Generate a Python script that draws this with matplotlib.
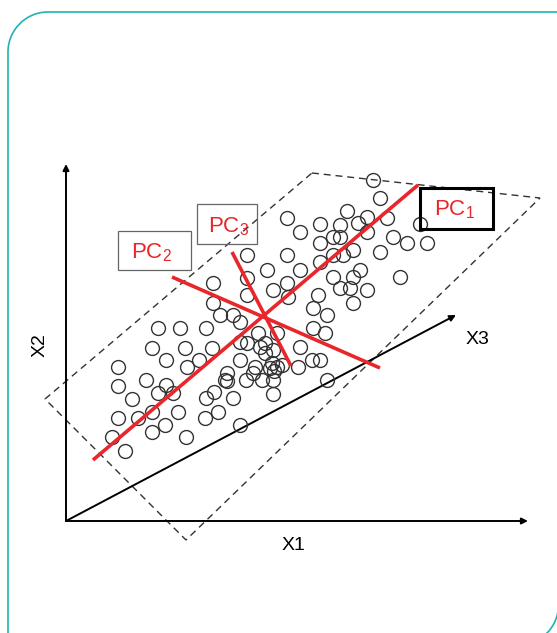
import matplotlib.pyplot as plt
from matplotlib.patches import Rectangle, Polygon, PathPatch
from matplotlib.path import Path

# scatter points (image pixel coordinates, y downwards)
punti_x = [373, 380, 347, 287, 300, 320, 340, 358, 367, 387, 420, 333, 340, 367, 393,
           407, 427, 320, 287, 247, 333, 343, 353, 380, 267, 300, 320, 213, 247, 273,
           287, 333, 353, 360, 340, 350, 367, 400, 318, 353, 288, 247, 213, 220, 233,
           240, 158, 180, 206, 152, 185, 212, 166, 199, 118, 187, 240, 247, 258, 260,
           277, 265, 272, 277, 255, 240, 300, 298, 312, 320, 313, 327, 313, 325, 327,
           225, 246, 253, 274, 214, 233, 118, 146, 166, 158, 173, 132, 206, 227, 227,
           262, 273, 118, 138, 152, 178, 205, 218, 165, 152, 186, 240, 112, 125, 273,
           270, 282, 265, 273]
punti_y = [180, 198, 211, 218, 232, 224, 225, 223, 217, 218, 224, 237, 237, 232, 237,
           243, 243, 243, 255, 255, 255, 255, 250, 252, 270, 270, 262, 283, 278, 290,
           283, 277, 277, 270, 288, 288, 290, 277, 295, 303, 297, 295, 303, 315, 315,
           322, 328, 328, 328, 348, 348, 348, 360, 360, 367, 367, 342, 343, 333, 347,
           333, 353, 363, 367, 367, 360, 347, 367, 360, 360, 308, 315, 328, 333, 380,
           380, 380, 373, 371, 392, 398, 386, 380, 385, 393, 393, 399, 398, 373, 381,
           380, 380, 418, 418, 412, 412, 418, 412, 425, 432, 437, 425, 437, 451, 394,
           368, 365, 343, 350]

# componenti principali (estremi dei segmenti)
pc1 = [(93, 460), (418, 185)]
pc2 = [(172, 277), (380, 368)]
pc3 = [(232, 252), (291, 366)]

# contorno tratteggiato
piano = [(312, 173), (540, 198), (186, 540), (45, 399)]

etichette = ['PC$_\\mathregular{1}$', 'PC$_\\mathregular{2}$', 'PC$_\\mathregular{3}$']
assi = ['X1', 'X2', 'X3']

rosso = '#e8262b'
grigio = '#333333'

fig = plt.figure(figsize=(5.57, 6.33), dpi=100)
ax = fig.add_axes([0, 0, 1, 1])
ax.set_xlim(0, 557)
ax.set_ylim(633, 0)
ax.axis('off')

# cornice: angoli arrotondati solo in alto a sinistra e in basso a destra
sx, dx, su, giu, r, k = 8, 558.5, 12, 645, 40, 0.5523
vertici = [(sx, giu), (sx, su + r),
           (sx, su + r - k * r), (sx + r - k * r, su), (sx + r, su),
           (dx, su), (dx, giu - r),
           (dx, giu - r + k * r), (dx - r + k * r, giu), (dx - r, giu),
           (sx, giu)]
codici = [Path.MOVETO, Path.LINETO, Path.CURVE4, Path.CURVE4, Path.CURVE4,
          Path.LINETO, Path.LINETO, Path.CURVE4, Path.CURVE4, Path.CURVE4, Path.LINETO]
ax.add_patch(PathPatch(Path(vertici, codici), fc='white', ec='#1fb3b3', lw=1.2, zorder=0))

ax.add_patch(Polygon(piano, closed=True, fill=False, ec=grigio, lw=1.0,
                     linestyle=(0, (5, 3.5)), zorder=2))

# assi
origine = (66, 521)
for punta in [(66, 164), (528, 521), (456, 315)]:
    ax.annotate('', xy=punta, xytext=origine,
                arrowprops=dict(arrowstyle='-|>', color='black', lw=1.4,
                                mutation_scale=9, shrinkA=0, shrinkB=0), zorder=3)

font_assi = ['Liberation Sans Narrow', 'Liberation Sans', 'DejaVu Sans']
ax.text(293, 545, assi[0], ha='center', va='center', fontsize=14, family=font_assi)
ax.text(40, 345, assi[1], ha='center', va='center', fontsize=14, rotation=90, family=font_assi)
ax.text(478, 340, assi[2], ha='center', va='center', fontsize=14, family=font_assi)

ax.plot(punti_x, punti_y, 'o', ms=10, mfc='none', mec=grigio, mew=1.0, zorder=4)

for seg in [pc1, pc2, pc3]:
    ax.plot([seg[0][0], seg[1][0]], [seg[0][1], seg[1][1]], color=rosso, lw=2.6,
            solid_capstyle='butt', zorder=5)

# riquadri etichette
ax.add_patch(Rectangle((420, 188), 73, 41, fill=False, ec='black', lw=2.2, zorder=6))
ax.add_patch(Rectangle((118, 231), 73, 39, fill=False, ec='#666666', lw=0.9, zorder=6))
ax.add_patch(Rectangle((197, 204), 60, 40, fill=False, ec='#666666', lw=0.9, zorder=6))

font_pc = ['Liberation Sans', 'DejaVu Sans']
ax.text(454, 210, etichette[0], ha='center', va='center', color=rosso, fontsize=16, family=font_pc, zorder=7)
ax.text(151, 253, etichette[1], ha='center', va='center', color=rosso, fontsize=16, family=font_pc, zorder=7)
ax.text(229, 227, etichette[2], ha='center', va='center', color=rosso, fontsize=16, family=font_pc, zorder=7)

fig.savefig('out.png', dpi=100)
